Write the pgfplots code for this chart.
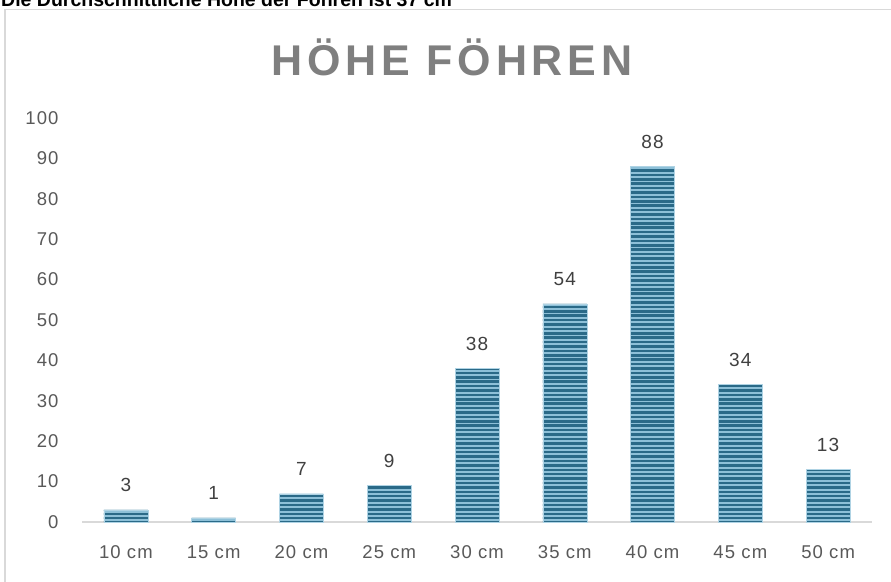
\documentclass[border=0pt]{standalone}
\usepackage{pgfplots}
\pgfplotsset{compat=1.18}
\usepackage{fontspec}
\setmainfont{Liberation Sans}
\usetikzlibrary{patterns}
\pgfdeclarepatternformonly{widestripes}{\pgfqpoint{-1pt}{0pt}}{\pgfqpoint{2000pt}{4.4pt}}{\pgfqpoint{2000pt}{4.4pt}}{%
  \pgfpathrectangle{\pgfqpoint{-1pt}{0pt}}{\pgfqpoint{2001pt}{2.5pt}}%
  \pgfusepath{fill}%
}
\definecolor{barlight}{HTML}{8DC0D8}
\definecolor{bardark}{HTML}{2A6A88}
\definecolor{tickgray}{HTML}{595959}
\definecolor{labgray}{HTML}{404040}
\definecolor{titlegray}{HTML}{7F7F7F}
\definecolor{framegray}{HTML}{D9D9D9}
\begin{document}
\begin{tikzpicture}
\clip (0pt,0pt) rectangle (891pt,-581pt);
\fill[white] (0pt,0pt) rectangle (891pt,-581pt);
\node[anchor=base west, inner sep=0pt, font=\bfseries\fontsize{19.5}{22}\selectfont] at (1pt,-6pt) {Die Durchschnittliche Höhe der Föhren ist 37 cm};
\draw[framegray, line width=1.6pt] (5pt,-9.5pt) rectangle (900pt,-600pt);
\node[anchor=base, inner sep=0pt, text=titlegray, font=\bfseries\fontsize{43}{50}\selectfont\addfontfeatures{LetterSpace=11}] at (452pt,-75pt) {HÖHE FÖHREN};
\begin{axis}[
  at={(82pt,-522pt)}, anchor=south west,
  scale only axis, width=790pt, height=404pt,
  xmin=-0.5, xmax=8.5, ymin=0, ymax=100,
  xtick={0,...,8},
  xticklabels={10 cm,15 cm,20 cm,25 cm,30 cm,35 cm,40 cm,45 cm,50 cm},
  ytick={0,10,...,100},
  axis line style={draw=none},
  major tick length=0pt,
  tick label style={text=tickgray, font=\fontsize{18.5}{22}\selectfont\addfontfeatures{LetterSpace=6}},
  /pgf/number format/assume math mode=true,
  xticklabel style={anchor=center, yshift=-30pt},
  yticklabel style={anchor=east, xshift=-20pt},
  extra y ticks={0},
  extra y tick labels={},
  extra y tick style={grid=major, major grid style={draw=framegray, line width=2.2pt}},
  ybar, bar width=44pt,
  nodes near coords,
  every node near coord/.append style={text=labgray, anchor=center, yshift=25pt, font=\fontsize{19}{22}\selectfont\addfontfeatures{LetterSpace=6}},
  clip=false,
]
\addplot[fill=barlight, draw=barlight!70, line width=0.4pt,
  postaction={pattern=widestripes, pattern color=bardark}]
 coordinates {(0,3) (1,1) (2,7) (3,9) (4,38) (5,54) (6,88) (7,34) (8,13)};
\end{axis}
\end{tikzpicture}
\end{document}
